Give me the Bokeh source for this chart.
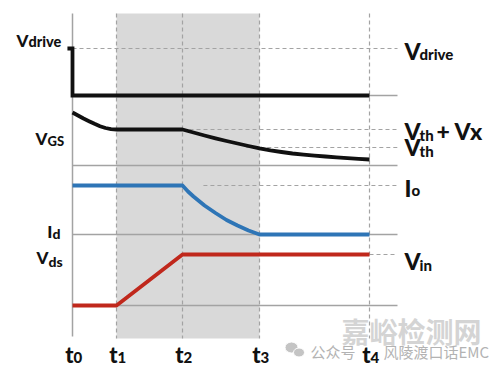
from bokeh.plotting import figure
from bokeh.models import Range1d, Label
from bokeh.embed import file_html
from bokeh.resources import INLINE

# ---------------- data ----------------
t_subs = ["0", "1", "2", "3", "4"]
t_marks = [0.0, 2.0, 5.0, 8.5, 13.5]

# gate drive (relative to its own baseline)
drive_t = [-0.23, 0.0, 0.0, 13.5]
drive_v = [47, 47, 0, 0]
V_drive = 47

# gate-source voltage
vgs_t = [0.0, 0.25, 0.5, 0.75, 1.0, 1.25, 1.5, 1.75, 2.0, 5.0,
         5.5, 6.0, 6.5, 7.0, 7.5, 8.0, 8.5, 9.0, 9.5, 10.0,
         10.5, 11.0, 11.5, 12.0, 12.5, 13.0, 13.5]
vgs_v = [53, 50, 47, 44.3, 41.7, 39.3, 37.5, 36.4, 36, 36,
         33, 30, 27.2, 24.5, 22, 19.5, 17.2, 15.2, 13.5, 12,
         10.8, 9.8, 9, 8.2, 7.4, 6.7, 6.0]
V_th = 18
V_thx = 36

# drain current
id_t = [0.0, 5.0, 5.25, 5.5, 6.0, 6.5, 7.0, 7.5, 8.0, 8.5, 13.5]
id_v = [49, 49, 43, 38, 29, 21.5, 14.5, 9, 4, 0, 0]
I_o = 49

# drain-source voltage
vds_t = [0.0, 2.0, 5.0, 13.5]
vds_v = [0, 0, 51, 51]
V_in = 51

# ---------------- layout ----------------
W, H = 494, 371
PX_T = 22.0          # px per time unit
T0_CX = 72.0         # canvas x of t0
x0 = -T0_CX / PX_T
x1 = x0 + W / PX_T

def px(page_x):      # picture x -> data x
    return (page_x - T0_CX) / PX_T

def py(page_y):      # picture y -> data y
    return H - page_y

BASE_DRIVE = py(95)
BASE_VGS = py(165)
BASE_ID = py(234)
BASE_VDS = py(305)
X_END = px(397)
TOP = py(13)
BOT = py(338)

p = figure(width=W, height=H, x_range=Range1d(x0, x1), y_range=Range1d(0, H),
           x_axis_type=None, y_axis_type=None, toolbar_location=None,
           output_backend="svg", min_border=0)
p.grid.visible = False
p.outline_line_color = None
p.background_fill_color = "white"
p.border_fill_color = "white"

GRAY = "#a3a3a3"
DASH = "4 3"

# shaded interval t1..t3
p.quad(left=[t_marks[1]], right=[t_marks[3]], top=[TOP], bottom=[BOT],
       fill_color="#d9d9d9", line_color=None)

# solid baselines
for b in [BASE_DRIVE, BASE_VGS, BASE_ID, BASE_VDS]:
    p.line([t_marks[0], X_END], [b, b], line_color=GRAY, line_width=1.3)

# t0 axis
p.line([t_marks[0], t_marks[0]], [TOP, py(336)], line_color=GRAY, line_width=1.5)

# dashed time markers
for tm in t_marks[1:]:
    p.line([tm, tm], [TOP, BOT], line_color=GRAY, line_width=1.2, line_dash=DASH)

# dashed reference levels
p.line([t_marks[0], X_END], [BASE_DRIVE + V_drive] * 2, line_color=GRAY, line_width=1.2, line_dash=DASH)
p.line([t_marks[2], X_END], [BASE_VGS + V_thx] * 2, line_color=GRAY, line_width=1.2, line_dash=DASH)
p.line([7.9, X_END], [BASE_VGS + V_th] * 2, line_color=GRAY, line_width=1.2, line_dash=DASH)
p.line([5.95, X_END], [BASE_ID + I_o] * 2, line_color=GRAY, line_width=1.2, line_dash=DASH)
p.line([t_marks[4], X_END], [BASE_VDS + V_in] * 2, line_color=GRAY, line_width=1.2, line_dash=DASH)

# waveforms
LW = 3.8
p.line(drive_t, [BASE_DRIVE + v for v in drive_v], line_color="#111111", line_width=LW,
       line_join="miter", line_cap="butt")
p.line(vgs_t, [BASE_VGS + v for v in vgs_v], line_color="#111111", line_width=LW,
       line_join="round", line_cap="butt")
p.line(id_t, [BASE_ID + v for v in id_v], line_color="#2e75b6", line_width=LW,
       line_join="round", line_cap="butt")
p.line(vds_t, [BASE_VDS + v for v in vds_v], line_color="#c0281c", line_width=LW,
       line_join="round", line_cap="butt")

FONT = "Lato Heavy"
SHIFT = 6  # compensate baseline placement

def lab(page_x, page_y, text, size, align="left", color="#111111", font=FONT, style="bold"):
    p.add_layout(Label(x=px(page_x), y=py(page_y - SHIFT), text=text, text_font=font,
                       text_font_style=style, text_font_size=size, text_align=align,
                       text_baseline="alphabetic", text_color=color))

# left labels (main right-aligned at split, subscript left-aligned)
lab(28, 45.7, "V", "17px", "right"); lab(28, 46.5, "drive", "14.5px")
lab(47, 144, "V", "17px", "right"); lab(47, 146.7, "GS", "13px")
lab(52, 236.7, "I", "17px", "right"); lab(52, 238.5, "d", "14px")
lab(48, 263, "V", "17px", "right"); lab(48, 266.5, "ds", "14px")

# right labels
lab(404, 56.7, "V", "23px"); lab(419, 59.5, "drive", "15px")
lab(404, 136.5, "V", "23px"); lab(419, 140.5, "th", "15px"); lab(436, 136.5, "+ Vx", "23px")
lab(404, 152, "V", "23px"); lab(419, 156, "th", "15px")
lab(404, 193.3, "I", "23px"); lab(411, 195.5, "o", "15px")
lab(404, 266.7, "V", "23px"); lab(419, 270, "in", "15px")

# watermark
p.ellipse(x=[px(291), px(298.5)], y=[py(347), py(352)], width=[13 / PX_T, 11 / PX_T],
          height=[11, 9], fill_color="#c4c4c4", line_color="white", line_width=1)
lab(341, 336, "嘉峪检测网", "28px", font="Noto Sans CJK SC", color="#d4d4d4", style="bold")
lab(310, 357, "公众号", "15px", font="Noto Sans CJK SC", color="#b3b3b3", style="normal")
lab(383, 357, "风陵渡口话EMC", "15px", font="Noto Sans CJK SC", color="#b3b3b3", style="normal")

# time labels
for tm, s in zip(t_marks, t_subs):
    cx = 72 + tm * PX_T + 1
    lab(cx, 360, "t", "22px", "right")
    lab(cx, 362.7, s, "15px", "left")

open("out.html", "w").write(file_html(p, INLINE))
